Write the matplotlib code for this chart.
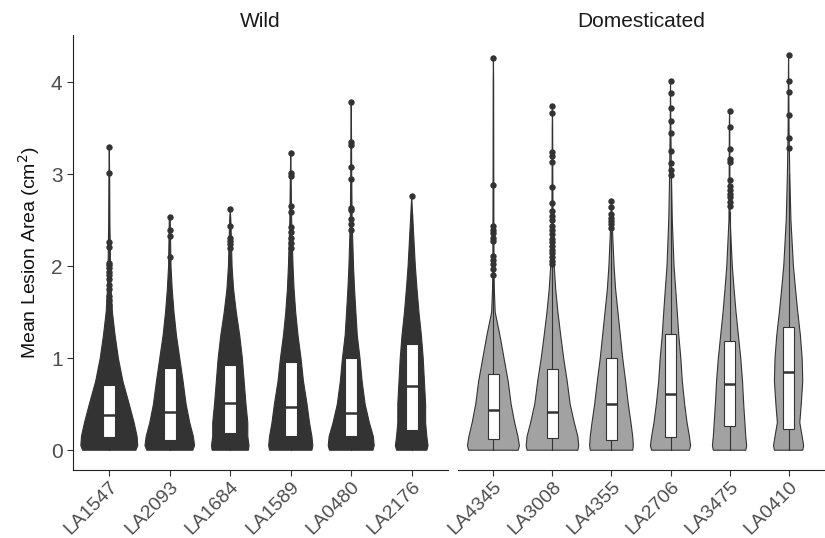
import numpy as np
import matplotlib
matplotlib.use("Agg")
import matplotlib.pyplot as plt
import matplotlib.transforms as mtransforms

plt.rcParams['font.family'] = ['Liberation Sans', 'DejaVu Sans']

# genotypes per panel
wild = ["LA1547", "LA2093", "LA1684", "LA1589", "LA0480", "LA2176"]
dom = ["LA4345", "LA3008", "LA4355", "LA2706", "LA3475", "LA0410"]

levels = [0, 0.05, 0.15, 0.3, 0.5, 0.75, 1.0, 1.25, 1.5, 1.75, 2.0, 2.5, 3.0, 3.5, 4.0]

# half widths (x units) at each level
width_wild = {
    "LA1547": [0.44, 0.47, 0.46, 0.41, 0.33, 0.225, 0.15, 0.096, 0.052, 0.03, 0.02, 0.01, 0.006],
    "LA2093": [0.38, 0.41, 0.39, 0.33, 0.27, 0.22, 0.165, 0.11, 0.07, 0.04, 0.02, 0.008],
    "LA1684": [0.30, 0.31, 0.29, 0.29, 0.26, 0.23, 0.20, 0.156, 0.10, 0.055, 0.03, 0.01],
    "LA1589": [0.35, 0.365, 0.35, 0.31, 0.27, 0.21, 0.17, 0.12, 0.082, 0.055, 0.038, 0.015, 0.006],
    "LA0480": [0.36, 0.38, 0.365, 0.30, 0.23, 0.18, 0.145, 0.10, 0.077, 0.055, 0.038, 0.015, 0.008, 0.004],
    "LA2176": [0.25, 0.27, 0.25, 0.23, 0.23, 0.21, 0.19, 0.16, 0.12, 0.088, 0.06, 0.02],
}
width_dom = {
    "LA4345": [0.42, 0.44, 0.415, 0.36, 0.30, 0.25, 0.18, 0.11, 0.03, 0.015, 0.01, 0.008, 0.006, 0.005, 0.004],
    "LA3008": [0.43, 0.445, 0.43, 0.37, 0.30, 0.25, 0.19, 0.14, 0.093, 0.055, 0.03, 0.01, 0.006, 0.004],
    "LA4355": [0.36, 0.37, 0.36, 0.33, 0.285, 0.24, 0.19, 0.15, 0.11, 0.07, 0.044, 0.01],
    "LA2706": [0.32, 0.34, 0.32, 0.28, 0.24, 0.20, 0.175, 0.14, 0.115, 0.088, 0.06, 0.03, 0.015, 0.006],
    "LA3475": [0.275, 0.29, 0.275, 0.26, 0.24, 0.22, 0.19, 0.15, 0.11, 0.077, 0.047, 0.01, 0.006, 0.004],
    "LA0410": [0.24, 0.255, 0.23, 0.19, 0.215, 0.24, 0.23, 0.20, 0.156, 0.118, 0.082, 0.04, 0.02, 0.008, 0.004],
}

# maximum value (top of violin)
ymax_wild = [3.30, 2.54, 2.62, 3.23, 3.79, 2.76]
ymax_dom = [4.27, 3.74, 2.72, 4.01, 3.69, 4.30]

# box stats: q1, median, q3, upper whisker
q1_wild = [0.145, 0.11, 0.185, 0.16, 0.15, 0.22]
med_wild = [0.38, 0.42, 0.51, 0.47, 0.41, 0.70]
q3_wild = [0.71, 0.89, 0.93, 0.96, 1.0, 1.16]
whi_wild = [1.56, 2.06, 2.05, 2.16, 2.28, 2.57]

q1_dom = [0.12, 0.13, 0.11, 0.14, 0.26, 0.23]
med_dom = [0.44, 0.42, 0.50, 0.61, 0.72, 0.85]
q3_dom = [0.83, 0.88, 1.0, 1.26, 1.19, 1.34]
whi_dom = [1.90, 2.0, 2.37, 2.94, 2.59, 3.0]

out_wild = {
    "LA1547": [3.30, 3.01, 2.26, 2.21, 2.04, 2.01, 1.98, 1.94, 1.90, 1.86, 1.80, 1.75, 1.68, 1.63, 1.58],
    "LA2093": [2.54, 2.39, 2.33, 2.10],
    "LA1684": [2.62, 2.44, 2.31, 2.28, 2.24, 2.20],
    "LA1589": [3.23, 3.01, 2.98, 2.66, 2.59, 2.43, 2.37, 2.31, 2.25, 2.20],
    "LA0480": [3.79, 3.35, 3.32, 3.08, 2.95, 2.63, 2.61, 2.51, 2.46, 2.39],
    "LA2176": [2.76],
}
out_dom = {
    "LA4345": [4.27, 2.88, 2.44, 2.40, 2.36, 2.31, 2.28, 2.11, 2.07, 2.03, 1.97, 1.91],
    "LA3008": [3.74, 3.67, 3.24, 3.20, 3.13, 2.86, 2.69, 2.60, 2.55, 2.50, 2.44, 2.40, 2.35,
               2.30, 2.26, 2.22, 2.18, 2.14, 2.10, 2.06, 2.02],
    "LA4355": [2.71, 2.64, 2.57, 2.53, 2.49, 2.46, 2.42],
    "LA2706": [4.01, 3.88, 3.72, 3.58, 3.45, 3.25, 3.12, 3.05, 2.99],
    "LA3475": [3.69, 3.51, 3.27, 3.17, 3.13, 2.94, 2.87, 2.83, 2.79, 2.75, 2.70, 2.66],
    "LA0410": [4.30, 4.02, 3.89, 3.65, 3.40, 3.29],
}

W, H = 825, 538
fig = plt.figure(figsize=(W / 100, H / 100), dpi=100)
ax1 = fig.add_axes([73 / W, 1 - 470 / H, 375 / W, 435 / H])
ax2 = fig.add_axes([458 / W, 1 - 470 / H, 366 / W, 435 / H])

dark = "#333333"
shift = mtransforms.ScaledTranslation(10 / 100, -2 / 100, fig.dpi_scale_trans)


def draw_panel(ax, names, widths, ymaxs, q1, med, q3, whi, outs, fill, box_edge):
    for i, g in enumerate(names):
        x = i + 1
        w = widths[g]
        ys = [l for l in levels if l < ymaxs[i]][:len(w)]
        ws = w[:len(ys)]
        ys = ys + [ymaxs[i]]
        ws = ws + [0.0]
        xs = [x + v for v in ws] + [x - v for v in ws[::-1]]
        yy = ys + ys[::-1]
        ax.fill(xs, yy, facecolor=fill, edgecolor=dark, linewidth=0.8, zorder=2)
        # whiskers
        ax.plot([x, x], [0, q1[i]], color=dark, lw=0.8, zorder=3)
        ax.plot([x, x], [q3[i], whi[i]], color=dark, lw=0.8, zorder=3)
        ax.add_patch(plt.Rectangle((x - 0.1, q1[i]), 0.2, q3[i] - q1[i],
                                   facecolor="white", edgecolor=box_edge, lw=0.8, zorder=4))
        ax.plot([x - 0.1, x + 0.1], [med[i], med[i]], color=dark, lw=1.8, zorder=5,
                solid_capstyle="butt")
        o = outs[g]
        ax.plot([x] * len(o), o, "o", color=dark, ms=4.6, mew=0, zorder=6)
    ax.set_xlim(0.4, 6.6)
    ax.set_ylim(-0.215, 4.515)
    ax.set_xticks(range(1, 7))
    ax.set_xticklabels(names, rotation=45, ha="right", va="top", rotation_mode="anchor",
                       fontsize=14, color="#4d4d4d")
    for lab in ax.get_xticklabels():
        lab.set_transform(lab.get_transform() + shift)
    for s in ["top", "right"]:
        ax.spines[s].set_visible(False)
    ax.spines["bottom"].set_color("#222222")
    ax.spines["left"].set_color("#222222")
    ax.tick_params(axis="x", length=4, color="#333333", pad=2)
    ax.tick_params(axis="y", length=4, color="#333333", labelsize=15, labelcolor="#4d4d4d")


draw_panel(ax1, wild, width_wild, ymax_wild, q1_wild, med_wild, q3_wild, whi_wild,
           out_wild, dark, dark)
draw_panel(ax2, dom, width_dom, ymax_dom, q1_dom, med_dom, q3_dom, whi_dom,
           out_dom, "#a2a2a2", dark)

ax1.set_yticks([0, 1, 2, 3, 4])
ax1.set_ylabel("Mean Lesion Area (cm$^2$)", fontsize=14, color="#111111", labelpad=6)
ax2.spines["left"].set_visible(False)
ax2.set_yticks([])

ax1.set_title("Wild", fontsize=15, color="#1a1a1a", pad=6)
ax2.set_title("Domesticated", fontsize=15, color="#1a1a1a", pad=6)

fig.savefig("out.png", dpi=100)
